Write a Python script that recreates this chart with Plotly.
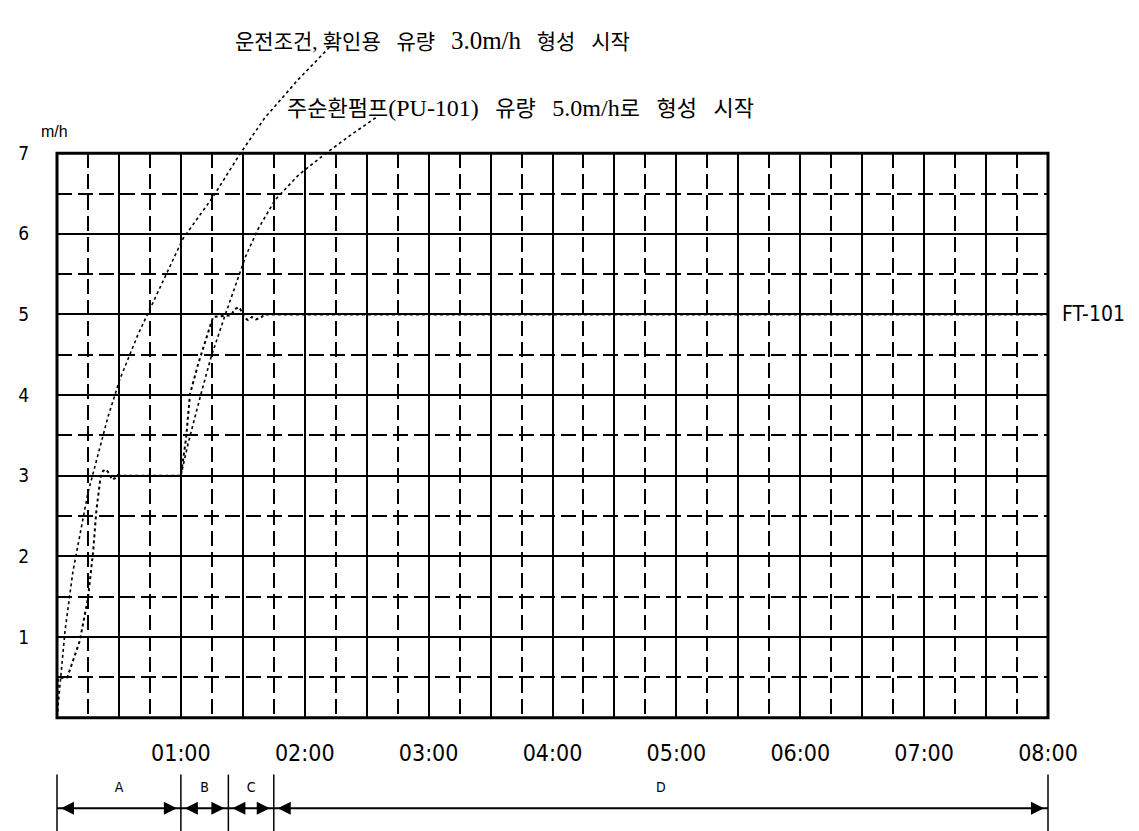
import plotly.graph_objects as go

# ---------------- data ----------------
# FT-101 flow curve (time in minutes, flow in m/h)
ft_time = [0, 0.5, 5, 11, 15, 17.5, 19, 21, 22.3, 23.7, 25.2, 26.6, 28.1, 29.5, 31, 60,
           62.5, 64.4, 68.3, 72.2, 75.6, 84.3, 86.2, 88.2, 89.6, 90.6, 92.5, 94.4, 96.4,
           98.8, 100.3, 480]
ft_flow = [0, 0.49, 0.5, 0.95, 1.48, 2.06, 2.55, 2.97, 3.06, 3.08, 3.03, 2.95, 2.97, 3.01,
           3.0, 3.0, 3.46, 4.01, 4.38, 4.69, 4.97, 4.99, 5.07, 5.09, 5.03, 4.96, 4.93, 4.97,
           4.94, 4.96, 5.0, 5.0]

# leader curve to note 1
lead1_time = [0, 3.9, 7.7, 15.0, 24.7, 30.5, 39.2, 48.9, 61.0, 75.6, 88.6, 100.7, 116.7, 132.2]
lead1_flow = [0.0, 1.08, 1.81, 2.79, 3.73, 4.20, 4.75, 5.27, 5.94, 6.46, 6.99, 7.44, 7.91, 8.32]

# leader curve to note 2
lead2_time = [60, 63.5, 69.7, 74.6, 81.4, 91.5, 97.4, 105.6, 117, 129.8, 142, 155.5]
lead2_flow = [3.0, 3.4, 4.01, 4.47, 4.99, 5.73, 6.06, 6.42, 6.73, 6.99, 7.22, 7.46]

SP = "\u2002 "
note1 = ("운전조건, 확인용" + SP + "유량" + SP + '<span style="font-size:25px">3.0m/h</span>'
         + SP + "형성" + SP + "시작")
note2 = ("주순환펌프" + '<span style="font-size:24px">(PU-101)</span>' + SP + "유량" + SP
         + '<span style="font-size:24px">5.0m/h</span>로' + SP + "형성" + SP + "시작")

hour_vals = [60, 120, 180, 240, 300, 360, 420, 480]
hour_text = ["01:00", "02:00", "03:00", "04:00", "05:00", "06:00", "07:00", "08:00"]
y_vals = [1, 2, 3, 4, 5, 6, 7]
y_text = ["1", "2", "3", "4", "5", "6", "7"]

phase_names = ["A", "B", "C", "D"]
phase_bounds = [0, 60, 83, 105, 480]

# ---------------- geometry ----------------
W, H = 1139, 831
ML, MR = 40, 90
PX0, PX1 = 49, 1040          # main plot horizontal pixels
PY0, PY1 = 708, 136          # main plot bottom/top pixels
plot_w = W - ML - MR
xmin, xmax = 0, 480
ymin, ymax = 0, 7
ppm = (PX1 - PX0) / (xmax - xmin)
ppu = (PY0 - PY1) / (ymax - ymin)
xdom = [(PX0 - ML) / plot_w, (PX1 - ML) / plot_w]
ydom = [(H - PY0) / H, (H - PY1) / H]
x3range = [xmin - (PX0 - ML) / ppm, xmax + (ML + plot_w - PX1) / ppm]
y3range = [-(H - PY0) / ppu, PY0 / ppu]

narrow = "Liberation Sans Narrow, DejaVu Sans Condensed, sans-serif"

fig = go.Figure()

dotted = dict(color="black", width=1.6, dash="dot")

fig.add_trace(go.Scatter(x=lead1_time, y=lead1_flow, xaxis="x3", yaxis="y3", mode="lines",
                         line=dotted, hoverinfo="skip", showlegend=False))
fig.add_trace(go.Scatter(x=lead2_time, y=lead2_flow, xaxis="x3", yaxis="y3", mode="lines",
                         line=dotted, hoverinfo="skip", showlegend=False))
fig.add_trace(go.Scatter(x=ft_time, y=ft_flow, mode="lines", name="FT-101",
                         line=dict(color="black", width=2, dash="dot"),
                         hoverinfo="skip", showlegend=False))

# phase bar
lo, hi = min(phase_bounds), max(phase_bounds)
fig.add_trace(go.Scatter(x=[lo, hi], y=[0.44, 0.44], xaxis="x3", yaxis="y4", mode="lines",
                         line=dict(color="black", width=2), hoverinfo="skip", showlegend=False))
tx, ty = [], []
for b in phase_bounds:
    tx += [b, b, None]
    ty += [0.0, 0.92, None]
fig.add_trace(go.Scatter(x=tx, y=ty, xaxis="x3", yaxis="y4", mode="lines",
                         line=dict(color="black", width=1.5), hoverinfo="skip", showlegend=False))
mids = [(phase_bounds[i] + phase_bounds[i + 1]) / 2 for i in range(len(phase_names))]
fig.add_trace(go.Scatter(x=mids, y=[0.72] * len(mids), xaxis="x3", yaxis="y4", mode="text",
                         text=phase_names,
                         textfont=dict(family=narrow, size=14, color="black"),
                         hoverinfo="skip", showlegend=False))

annotations = []
for i in range(len(phase_names)):
    a, b = phase_bounds[i], phase_bounds[i + 1]
    for pt, ax in ((a, 16), (b, -16)):
        annotations.append(dict(x=pt, y=0.44, xref="x3", yref="y4", ax=ax, ay=0,
                                showarrow=True, arrowhead=2, arrowsize=1.3, arrowwidth=2,
                                arrowcolor="black", standoff=4, text=""))

kfont = dict(family="Liberation Serif, Noto Sans CJK KR, serif", color="black")
annotations.append(dict(x=(225 - PX0) / ppm, y=(H - 22) / H, xref="x", yref="paper", text=note1,
                        showarrow=False, xanchor="left", yanchor="middle",
                        font=dict(size=21, **kfont)))
annotations.append(dict(x=(277 - PX0) / ppm, y=(H - 90) / H, xref="x", yref="paper", text=note2,
                        showarrow=False, xanchor="left", yanchor="middle",
                        font=dict(size=22, **kfont)))
annotations.append(dict(x=480, y=5, xref="x", yref="y", xshift=12, text="FT-101",
                        showarrow=False, xanchor="left", yanchor="middle",
                        font=dict(family=narrow, size=21, color="black")))
annotations.append(dict(x=(46 - ML) / plot_w, y=(H - 114) / H, xref="paper", yref="paper",
                        text="m/h", showarrow=False, xanchor="center", yanchor="middle",
                        font=dict(family="Liberation Sans, Arial, sans-serif", size=16,
                                  color="black")))

fig.update_layout(
    width=W, height=H,
    margin=dict(l=ML, r=MR, t=0, b=0),
    paper_bgcolor="white", plot_bgcolor="rgba(0,0,0,0)",
    showlegend=False,
    xaxis=dict(domain=xdom, range=[xmin, xmax], anchor="y",
               tickmode="array", tickvals=[0] + list(range(30, 481, 30)),
               ticktext=[""] + [hour_text[hour_vals.index(v)] if v in hour_vals else ""
                                for v in range(30, 481, 30)],
               ticks="outside", ticklen=15, tickcolor="rgba(0,0,0,0)",
               tickfont=dict(family=narrow, size=23, color="black"),
               showgrid=True, gridcolor="black", gridwidth=2,
               minor=dict(tick0=0, dtick=15, showgrid=True, gridcolor="black",
                          gridwidth=2, griddash="15px,6px"),
               showline=False, zeroline=False, fixedrange=True),
    yaxis=dict(domain=ydom, range=[ymin, ymax], anchor="x",
               tickmode="array", tickvals=[0] + y_vals, ticktext=[""] + y_text,
               ticks="outside", ticklen=23, tickcolor="rgba(0,0,0,0)",
               tickfont=dict(family=narrow, size=19, color="black"),
               showgrid=True, gridcolor="black", gridwidth=2,
               minor=dict(tick0=0, dtick=0.5, showgrid=True, gridcolor="black",
                          gridwidth=2, griddash="15px,6px"),
               showline=False, zeroline=False, fixedrange=True),
    xaxis3=dict(domain=[0, 1], range=x3range, anchor="y3", visible=False, fixedrange=True),
    yaxis3=dict(domain=[0, 1], range=y3range, anchor="x3", visible=False, fixedrange=True),
    yaxis4=dict(domain=[0, (H - 760) / H], range=[0, 1], anchor="x3", visible=False,
                fixedrange=True),
    annotations=annotations,
    shapes=[dict(type="rect", xref="x domain", yref="y domain", x0=0, x1=1, y0=0, y1=1,
                 line=dict(color="black", width=3), fillcolor="rgba(0,0,0,0)", layer="above")],
)

fig.write_html("out.html")
